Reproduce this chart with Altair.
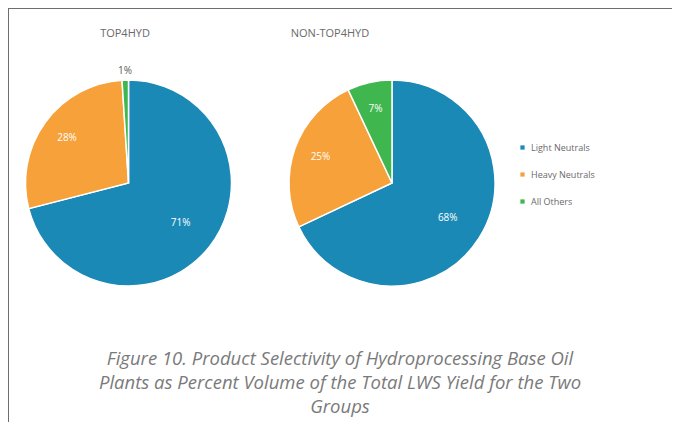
import math
import altair as alt
import pandas as pd

groups = ["TOP4HYD", "NON-TOP4HYD"]
categories = ["Light Neutrals", "Heavy Neutrals", "All Others"]
top4hyd = [71, 28, 1]
non_top4hyd = [68, 25, 7]
colors = ["#1b89b6", "#f6a13a", "#3fb64e"]
caption = [
    "Figure 10. Product Selectivity of Hydroprocessing Base Oil",
    "Plants as Percent Volume of the Total LWS Yield for the Two",
    "Groups",
]

rows = []
for g, vals in zip(groups, [top4hyd, non_top4hyd]):
    for i, (c, v) in enumerate(zip(categories, vals)):
        rows.append({"group": g, "category": c, "value": v, "order": i})
df = pd.DataFrame(rows)

FONT = "Open Sans"
GRAY = "#6a6a6a"

theta_scale = alt.Scale(domain=[0, 100], range=[0, 2 * math.pi])
x_enc = alt.X("group:N", scale=alt.Scale(type="point", domain=groups, range=[120.5, 384], padding=0), axis=None)

base = alt.Chart(df).transform_window(
    cum="sum(value)", groupby=["group"], sort=[alt.SortField("order")], frame=[None, 0]
).transform_calculate(
    start="datum.cum - datum.value",
    mid="datum.cum - datum.value / 2",
    lab="datum.value + '%'",
    lr="datum.value < 3 ? 112 : (datum.value > 50 ? 66 : 76)",
)

arcs = base.mark_arc(outerRadius=103, stroke="white", strokeWidth=1.5).encode(
    x=x_enc,
    y=alt.value(175),
    theta=alt.Theta("start:Q", scale=theta_scale, stack=None),
    theta2="cum:Q",
    color=alt.Color(
        "category:N",
        scale=alt.Scale(domain=categories, range=colors),
        legend=alt.Legend(
            title=None, orient="none", legendX=510, legendY=135,
            symbolType="square", symbolSize=18, symbolStrokeWidth=0,
            labelFontSize=9, labelColor=GRAY, labelFont=FONT, rowPadding=17,
        ),
    ),
)

labels = base.mark_text(fontSize=10, font=FONT).encode(
    x=x_enc,
    y=alt.value(175),
    theta=alt.Theta("mid:Q", scale=theta_scale, stack=None),
    radius=alt.Radius("lr:Q", scale=None),
    text="lab:N",
    color=alt.condition("datum.value < 3", alt.value("#595959"), alt.value("white")),
)

one = pd.DataFrame({"k": [0]})
left_edge = alt.Chart(one).mark_rule(color="#6e6e6e", strokeWidth=2).encode(
    x=alt.value(0), y=alt.value(0), y2=alt.value(440)
)
top_edge = alt.Chart(one).mark_rule(color="#6e6e6e", strokeWidth=2).encode(
    x=alt.value(0), x2=alt.value(700), y=alt.value(0)
)

t1 = alt.Chart(pd.DataFrame({"t": [groups[0]]})).mark_text(fontSize=11, font=FONT, color=GRAY).encode(
    text="t:N", x=alt.value(117), y=alt.value(26)
)
t2 = alt.Chart(pd.DataFrame({"t": [groups[1]]})).mark_text(fontSize=11, font=FONT, color=GRAY).encode(
    text="t:N", x=alt.value(322), y=alt.value(26)
)

cap = alt.Chart(one).mark_text(
    fontSize=18.5, font=FONT, fontStyle="italic", color="#7a7a7a", lineHeight=24, baseline="middle"
).encode(text=alt.value(caption), x=alt.value(332), y=alt.value(351))

chart = alt.layer(left_edge, top_edge, arcs, labels, t1, t2, cap).properties(
    width=664, height=414, padding=0, autosize=alt.AutoSizeParams(type="none"), background="white"
).configure_view(stroke=None)

chart.save("out.html", embed_options={"renderer": "svg", "actions": False})
